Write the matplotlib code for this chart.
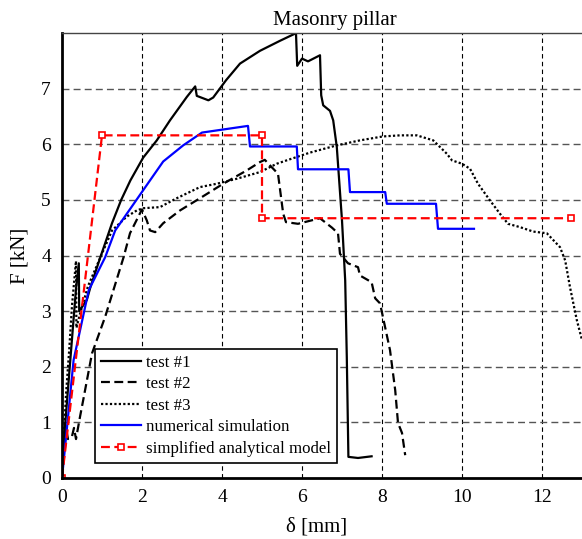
import numpy as np
import matplotlib.pyplot as plt

# --- data (delta [mm], F [kN]) ---
test1_d = [0, 0.05, 0.15, 0.25, 0.35, 0.42, 0.43, 0.62, 0.71, 0.95, 1.25, 1.48, 1.71, 2.03,
           2.37, 2.7, 2.87, 3.12, 3.33, 3.37, 3.66, 3.78, 4.1, 4.45, 4.95, 5.45, 5.83,
           5.85, 5.88, 6.0, 6.15, 6.45, 6.48, 6.53, 6.7, 6.78, 6.87, 7.0, 7.08, 7.12,
           7.16, 7.4, 7.74]
test1_f = [0, 0.7, 1.6, 2.5, 3.4, 3.86, 3.0, 3.2, 3.43, 3.95, 4.58, 5.0, 5.35, 5.76,
           6.07, 6.43, 6.6, 6.85, 7.04, 6.87, 6.79, 6.84, 7.15, 7.45, 7.68, 7.86, 7.99,
           7.99, 7.41, 7.54, 7.49, 7.6, 6.88, 6.7, 6.6, 6.43, 5.95, 4.63, 3.55, 2.17,
           0.38, 0.36, 0.39]

test2_d = [0, 0.05, 0.1, 0.15, 0.25, 0.3, 0.35, 0.45, 0.53, 0.75, 1.08, 1.54, 1.7,
           2.0, 2.12, 2.2, 2.33, 2.53, 2.95, 3.45, 4.03, 4.62, 4.95, 5.07, 5.2, 5.4,
           5.53, 5.6, 5.9, 6.45, 6.75, 6.9, 6.95, 7.15, 7.4, 7.45, 7.74, 7.83, 7.95,
           8.2, 8.33, 8.4, 8.5, 8.58]
test2_f = [0, 0.5, 0.9, 0.7, 0.75, 0.9, 0.7, 1.1, 1.4, 2.24, 2.9, 3.97, 4.4,
           4.83, 4.63, 4.45, 4.42, 4.58, 4.81, 5.03, 5.29, 5.53, 5.68, 5.72, 5.62, 5.47,
           4.75, 4.6, 4.57, 4.67, 4.5, 4.4, 4.03, 3.86, 3.79, 3.64, 3.52, 3.23, 3.14,
           2.3, 1.58, 0.99, 0.81, 0.41]

test3_d = [0, 0.05, 0.1, 0.18, 0.25, 0.35, 0.36, 0.45, 0.65, 0.95, 1.25, 1.62, 1.87, 2.03,
           2.45, 2.87, 3.45, 3.87, 4.37, 4.95, 5.37, 5.78, 6.2, 6.87, 7.45, 8.02, 8.45,
           8.87, 9.28, 9.62, 9.75, 10.0, 10.2, 10.4, 10.7, 10.95, 11.15, 11.45, 11.78,
           12.12, 12.45, 12.58, 12.7, 12.87, 13.0]
test3_f = [0, 0.8, 1.5, 2.3, 3.1, 3.9, 2.7, 2.95, 3.45, 3.95, 4.45, 4.7, 4.81, 4.85,
           4.87, 5.03, 5.23, 5.29, 5.38, 5.5, 5.65, 5.75, 5.85, 5.98, 6.07, 6.14, 6.16,
           6.16, 6.07, 5.83, 5.71, 5.65, 5.56, 5.29, 4.99, 4.75, 4.57, 4.51, 4.43,
           4.4, 4.15, 3.91, 3.43, 2.84, 2.48]

num_d = [0, 0.29, 0.67, 1.08, 1.33, 2.2, 2.53, 3.03, 3.5, 4.65, 4.7, 5.87, 5.9, 7.16,
         7.2, 8.08, 8.12, 9.35, 9.4, 10.3]
num_f = [0, 2.12, 3.38, 3.97, 4.45, 5.35, 5.69, 5.98, 6.21, 6.33, 5.96, 5.96, 5.55, 5.55,
         5.14, 5.14, 4.93, 4.93, 4.48, 4.48]

model_d = [0, 1.0, 5.0, 5.0, 12.73]
model_f = [0, 6.16, 6.16, 4.67, 4.67]

plt.rcParams['font.family'] = ['Liberation Serif', 'DejaVu Serif']

fig = plt.figure(figsize=(5.82, 5.39), dpi=100)
ax = fig.add_axes([62/582, 61/539, 520/582, 445/539])

ax.plot(test1_d, test1_f, color='black', lw=1.6, label='test #1')
ax.plot(test2_d, test2_f, color='black', lw=1.6, dashes=(4, 2), label='test #2')
ax.plot(test3_d, test3_f, color='black', lw=1.6, dashes=(1, 1), label='test #3')
ax.plot(num_d, num_f, color='#0000ff', lw=1.6, label='numerical simulation')
ax.plot(model_d, model_f, color='#ff0000', lw=1.6, dashes=(4, 2), marker='s',
        markersize=5, markerfacecolor='white', markeredgecolor='#ff0000',
        markeredgewidth=1.2, label='simplified analytical model')

ax.set_xlim(0, 13)
ax.set_ylim(0, 8)
ax.set_xticks([0, 2, 4, 6, 8, 10, 12])
ax.set_yticks([0, 1, 2, 3, 4, 5, 6, 7])
ax.tick_params(labelsize=14, length=0, pad=8)
ax.grid(False)
for x in [2, 4, 6, 8, 10, 12]:
    ax.axvline(x, color='black', lw=0.8, dashes=(4, 3), zorder=0)
for y in [1, 2, 3, 4, 5, 6, 7]:
    ax.axhline(y, color='#555555', lw=1.0, dashes=(5, 3), zorder=0)

ax.spines['left'].set_linewidth(2)
ax.spines['bottom'].set_linewidth(2)
ax.spines['top'].set_linewidth(1)
ax.spines['top'].set_color('#444444')
ax.spines['right'].set_visible(False)

ax.set_title('Masonry pillar', fontsize=15, pad=6, x=0.525)
ax.set_xlabel('δ [mm]', fontsize=15, labelpad=8, x=0.49)
ax.set_ylabel('F [kN]', fontsize=15, labelpad=8)

leg = ax.legend(loc='lower left', bbox_to_anchor=(0.063, 0.034), fontsize=12.2,
                frameon=True, fancybox=False, edgecolor='black', framealpha=1,
                handlelength=2.35, borderpad=0.35, labelspacing=0.33, handletextpad=0.3,
                borderaxespad=0)
leg.get_frame().set_linewidth(1.2)

fig.savefig('out.png', dpi=100)
